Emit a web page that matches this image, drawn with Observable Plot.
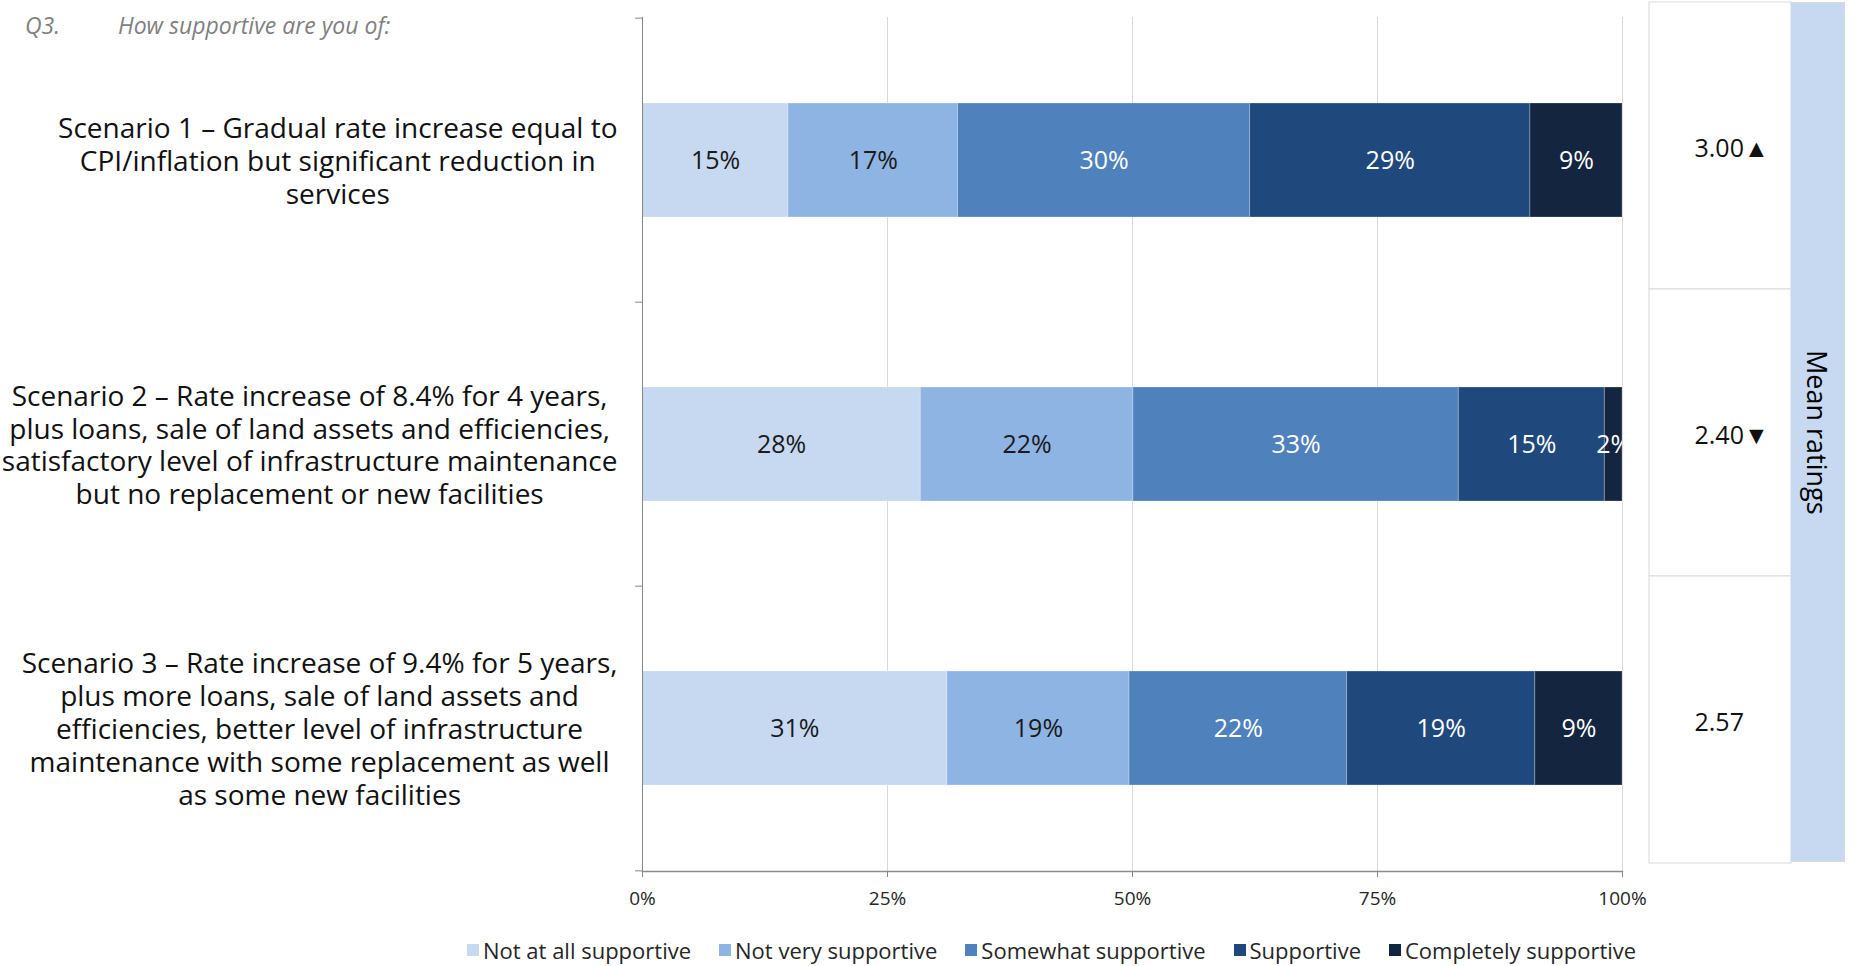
<!DOCTYPE html>
<html>
<head>
<meta charset="utf-8">
<script src="https://cdn.jsdelivr.net/npm/d3@7"></script>
<script src="https://cdn.jsdelivr.net/npm/@observablehq/plot@0.6"></script>
<style>
  body { margin: 0; background: #fff; }
  #wrap { position: relative; width: 1856px; height: 966px; overflow: hidden; font-family: "Open Sans", sans-serif; background: #fff; }
  #wrap svg { position: absolute; top: 0; max-width: none; }
  .title { position: absolute; top: 9px; font-style: italic; font-size: 23px; line-height: 32px; color: #7f7f7f; white-space: nowrap; }
  #legend { position: absolute; left: 467px; top: 938px; height: 24px; display: flex; align-items: center; font-size: 22px; line-height: 24px; color: #262626; white-space: nowrap; }
  #legend .item { display: flex; align-items: center; margin-right: 28px; }
  #legend .sw { width: 12px; height: 12px; margin-right: 4px; }
  #meanHead { position: absolute; left: 1791px; top: 2px; width: 54px; height: 860px; background: #c6d9f1; border: 1px solid #d9d9d9; border-left: none; box-sizing: border-box; display: flex; align-items: center; justify-content: center; }
  #meanHead span { writing-mode: vertical-rl; font-size: 27px; color: #000; }
</style>
</head>
<body>
<div id="wrap"></div>
<script>
// ---------- data ----------
const questionNo = "Q3.";
const questionText = "How supportive are you of:";
const scenarios = ["Scenario 1", "Scenario 2", "Scenario 3"];
const scenarioLabels = [
  "Scenario 1 – Gradual rate increase equal to\nCPI/inflation but significant reduction in\nservices",
  "Scenario 2 – Rate increase of 8.4% for 4 years,\nplus loans, sale of land assets and efficiencies,\nsatisfactory level of infrastructure maintenance\nbut no replacement or new facilities",
  "Scenario 3 – Rate increase of 9.4% for 5 years,\nplus more loans, sale of land assets and\nefficiencies, better level of infrastructure\nmaintenance with some replacement as well\nas some new facilities"
];
const levels = ["Not at all supportive", "Not very supportive", "Somewhat supportive", "Supportive", "Completely supportive"];
const levelColors = ["#c6d9f1", "#8eb4e3", "#4f81bd", "#1f497d", "#14253f"];
const notAtAllSupportive = [14.9, 28.4, 31.1];
const notVerySupportive = [17.3, 21.7, 18.6];
const somewhatSupportive = [29.8, 33.2, 22.2];
const supportive = [28.6, 14.9, 19.2];
const completelySupportive = [9.4, 1.8, 8.9];
const meanRatings = [3.00, 2.40, 2.57];
const meanSignificance = ["▲", "▼", ""];
const xTicks = [0, 25, 50, 75, 100];
const meanTitle = "Mean ratings";

// ---------- build tables ----------
const series = [notAtAllSupportive, notVerySupportive, somewhatSupportive, supportive, completelySupportive];
const rows = scenarios.flatMap((s, i) => levels.map((l, j) => ({scenario: s, level: l, value: series[j][i], dark: j < 2})));
const labelData = scenarios.map((s, i) => ({scenario: s, label: scenarioLabels[i]}));
const meanData = scenarios.map((s, i) => ({scenario: s, mean: meanRatings[i], sig: meanSignificance[i]}));
const pct = v => Math.round(v) + "%";

// ---------- layout ----------
const W = 1650, H = 920, mT = 17, mB = 49, mL = 642, mR = 28;
const pInner = 0.6, pOuter = 0.3;
const step = (H - mT - mB) / (scenarios.length - pInner + 2 * pOuter);
const catSize = 28, catGap = 25;
const font = "Open Sans";

const ctx = document.createElement("canvas").getContext("2d");
ctx.font = `${catSize}px "${font}"`;
const blockWidth = s => Math.max(...s.split("\n").map(t => ctx.measureText(t).width));

const labelMarks = labelData.map(d => Plot.text([d], {
  y: "scenario", text: "label", frameAnchor: "left", textAnchor: "middle",
  dx: -(catGap + blockWidth(d.label) / 2), fontSize: catSize, lineHeight: 1.17, fill: "#111"
}));

const chart = Plot.plot({
  width: W, height: H, marginTop: mT, marginBottom: mB, marginLeft: mL, marginRight: mR,
  style: {fontFamily: font, background: "transparent"},
  x: {domain: [0, 100]},
  y: {domain: scenarios, paddingInner: pInner, paddingOuter: pOuter, axis: null},
  color: {domain: levels, range: levelColors},
  marks: [
    Plot.ruleX(xTicks.slice(1), {stroke: "#d9d9d9"}),
    Plot.barX(rows, Plot.stackX({x: "value", y: "scenario", fill: "level", stroke: "white", strokeOpacity: 0.25, strokeWidth: 1})),
    Plot.text(rows, Plot.stackX({x: "value", y: "scenario", text: d => d.dark ? pct(d.value) : "", fill: "#1a1a1a", fontSize: 25})),
    Plot.text(rows, Plot.stackX({x: "value", y: "scenario", text: d => d.dark ? "" : pct(d.value), fill: "white", fontSize: 25, clip: true})),
    Plot.ruleX([0], {stroke: "#868686"}),
    Plot.frame({anchor: "bottom", stroke: "#8c8c8c", strokeWidth: 1.5}),
    Plot.ruleY(scenarios, {y: d => d, x1: 0, x2: 0, insetLeft: -7, dy: -step / 2, stroke: "#868686"}),
    Plot.ruleY(scenarios.slice(-1), {y: d => d, x1: 0, x2: 0, insetLeft: -7, dy: step / 2, stroke: "#868686"}),
    Plot.axisX({ticks: xTicks, tickFormat: d => d + "%", tickSize: 6, tickPadding: 14, stroke: "#868686", fill: "#262626", fontSize: 19, label: null}),
    ...labelMarks
  ]
});
chart.style.left = "0px";

const table = Plot.plot({
  width: 152, height: 866, marginLeft: 9, marginRight: 1, marginTop: 2, marginBottom: 3,
  style: {fontFamily: font, background: "transparent"},
  y: {domain: scenarios, padding: 0, axis: null},
  marks: [
    Plot.cell(meanData, {y: "scenario", fill: "white", stroke: "#d9d9d9"}),
    Plot.text(meanData, {y: "scenario", text: d => d.mean.toFixed(2) + d.sig, frameAnchor: "left", textAnchor: "start", dx: 45, dy: 3, fontSize: 25, fill: "#111"})
  ]
});
table.style.left = "1640px";

const wrap = document.getElementById("wrap");
wrap.appendChild(chart);
wrap.appendChild(table);

const head = document.createElement("div");
head.id = "meanHead";
head.innerHTML = `<span>${meanTitle}</span>`;
wrap.appendChild(head);

const t1 = document.createElement("div");
t1.className = "title"; t1.style.left = "25px"; t1.textContent = questionNo;
const t2 = document.createElement("div");
t2.className = "title"; t2.style.left = "118px"; t2.textContent = questionText;
wrap.appendChild(t1); wrap.appendChild(t2);

const color = chart.scale("color");
const legend = document.createElement("div");
legend.id = "legend";
for (const l of levels) {
  const item = document.createElement("div");
  item.className = "item";
  item.innerHTML = `<span class="sw" style="background:${color.apply(l)}"></span><span>${l}</span>`;
  legend.appendChild(item);
}
wrap.appendChild(legend);
</script>
</body>
</html>
